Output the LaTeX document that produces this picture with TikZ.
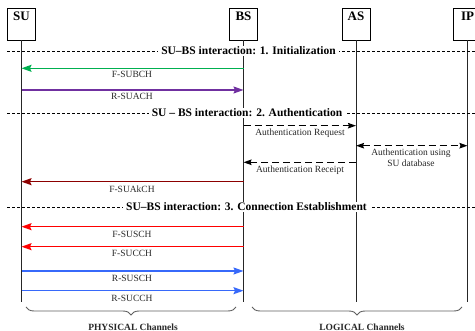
\documentclass[tikz,border=0pt]{standalone}
\usepackage{fontspec}
\setmainfont{Liberation Serif}
\usetikzlibrary{arrows.meta,decorations.pathreplacing}

\definecolor{msggreen}{RGB}{0,176,80}
\definecolor{msgpurple}{RGB}{112,48,160}
\definecolor{msgdarkred}{RGB}{140,0,0}
\definecolor{msgred}{RGB}{255,0,0}
\definecolor{msgblue}{RGB}{55,105,250}
\definecolor{lblgray}{RGB}{40,40,40}
\definecolor{bracegray}{RGB}{95,95,95}

\tikzset{
  actor/.style={draw, line width=0.8pt, minimum width=28pt, minimum height=32pt, inner sep=0pt},
  actorname/.style={font=\bfseries\fontsize{13}{13}\selectfont, anchor=base, inner sep=0pt},
  life/.style={line width=0.8pt, draw=black!85},
  secline/.style={line width=0.6pt, dash pattern=on 3pt off 2pt},
  sectitle/.style={fill=white, font=\bfseries\fontsize{11.5}{12}\selectfont, inner xsep=3pt, inner ysep=1pt},
  msg/.style={line width=1.5pt, -{Stealth[length=10pt,width=7pt,inset=1.5pt]}},
  authmsg/.style={line width=1.1pt, dash pattern=on 7pt off 4pt, -{Stealth[length=8pt,width=5.5pt,inset=1pt]}},
  authboth/.style={line width=1.1pt, dash pattern=on 7pt off 4pt, {Stealth[length=8pt,width=5.5pt,inset=1pt]}-{Stealth[length=8pt,width=5.5pt,inset=1pt]}},
  lbl/.style={font=\fontsize{9.5}{10.6}\selectfont, text=lblgray, inner sep=0pt, anchor=center},
  chbrace/.style={draw=bracegray, line width=0.9pt, decorate, decoration={brace, mirror, amplitude=8pt}},
  chname/.style={font=\bfseries\fontsize{9.5}{10}\selectfont, text=lblgray, inner sep=0pt}
}

\begin{document}
\begin{tikzpicture}[x=1pt, y=-1pt]
\useasboundingbox (0,0) rectangle (475,331);

% entities
\node[actor] (su) at (21.5,24) {};
\node[actor] (bs) at (243.5,24) {};
\node[actor] (as) at (356,24) {};
\node[actor] (ip) at (467.5,24) {};
\node[actorname] (sun) at (21.5,20.7) {SU};
\node[actorname] (bsn) at (243.5,20.7) {BS};
\node[actorname] (asn) at (356,20.7) {AS};
\node[actorname] (ipn) at (467.5,20.7) {IP};

% lifelines
\coordinate (bottom) at (0,302);
\draw[life] (su) -- (su |- bottom);
\draw[life] (bs) -- (bs |- bottom);
\draw[life] (as) -- (as |- bottom);
\draw[life] (ip) -- (ip |- bottom);

% phase separators
\coordinate (s1l) at (7,51);   \coordinate (s1r) at (475,51);
\coordinate (s2l) at (7,113);  \coordinate (s2r) at (475,113);
\coordinate (s3l) at (7,207);  \coordinate (s3r) at (475,207);
\draw[secline] (s1l) -- (s1r);
\draw[secline] (s2l) -- (s2r);
\draw[secline] (s3l) -- (s3r);
\node[sectitle] (t1) at (248.5,51) {SU–BS interaction: 1. Initialization};
\node[sectitle] (t2) at (247,113) {SU – BS interaction: 2. Authentication};
\node[sectitle] (t3) at (246.5,207) {SU–BS interaction: 3. Connection Establishment};

% phase 1
\draw[msg, msggreen] (bs |- 0,68.3) -- (su |- 0,68.3);
\node[lbl] (l1) at (132,74.5) {F-SUBCH};
\draw[msg, msgpurple] (su |- 0,90) -- (bs |- 0,90);
\node[lbl] (l2) at (132,96.7) {R-SUACH};

% phase 2
\draw[authmsg] (bs |- 0,125.7) -- (as |- 0,125.7);
\node[lbl] (l3) at (300,133) {Authentication Request};
\draw[authboth] (as |- 0,145.7) -- (ip |- 0,145.7);
\node[lbl, align=center] (l4) at (411,158) {Authentication using\\SU database};
\draw[authmsg] (as |- 0,162.3) -- (bs |- 0,162.3);
\node[lbl] (l5) at (300,170) {Authentication Receipt};
\draw[msg, msgdarkred] (bs |- 0,181.7) -- (su |- 0,181.7);
\node[lbl] (l6) at (132,189.3) {F-SUAkCH};

% phase 3
\draw[msg, msgred] (bs |- 0,226.7) -- (su |- 0,226.7);
\node[lbl] (l7) at (132,234) {F-SUSCH};
\draw[msg, msgred] (bs |- 0,246.7) -- (su |- 0,246.7);
\node[lbl] (l8) at (132,253.3) {F-SUCCH};
\draw[msg, msgblue] (su |- 0,271) -- (bs |- 0,271);
\node[lbl] (l9) at (132,278) {R-SUSCH};
\draw[msg, msgblue] (su |- 0,290.7) -- (bs |- 0,290.7);
\node[lbl] (l10) at (132,298) {R-SUCCH};

% channel groups
\coordinate (pb1) at (26,307);  \coordinate (pb2) at (236,307);
\coordinate (lb1) at (252,307); \coordinate (lb2) at (462,307);
\draw[chbrace] (pb1) -- (pb2);
\draw[chbrace] (lb1) -- (lb2);
\node[chname] (phys) at (133,327) {PHYSICAL Channels};
\node[chname] (logi) at (362,327) {LOGICAL Channels};
\end{tikzpicture}
\end{document}
